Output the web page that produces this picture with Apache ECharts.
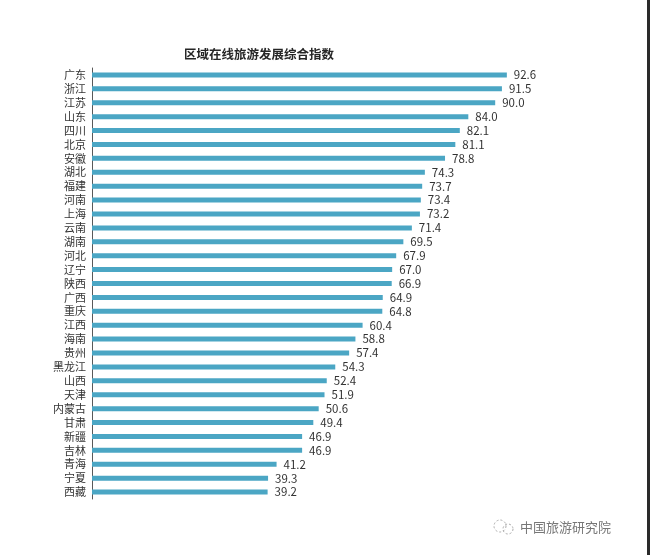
<!DOCTYPE html>
<html><head><meta charset="utf-8">
<script src="https://cdn.jsdelivr.net/npm/echarts@6/dist/echarts.min.js"></script>
<style>html,body{margin:0;padding:0;background:#fff}#c{width:650px;height:555px}</style>
</head><body><div id="c"></div>
<script>
var categories = ['广东','浙江','江苏','山东','四川','北京','安徽','湖北','福建','河南','上海','云南','湖南','河北','辽宁','陕西','广西','重庆','江西','海南','贵州','黑龙江','山西','天津','内蒙古','甘肃','新疆','吉林','青海','宁夏','西藏'];
var values = [92.6,91.5,90.0,84.0,82.1,81.1,78.8,74.3,73.7,73.4,73.2,71.4,69.5,67.9,67.0,66.9,64.9,64.8,60.4,58.8,57.4,54.3,52.4,51.9,50.6,49.4,46.9,46.9,41.2,39.3,39.2];
var titleText = '区域在线旅游发展综合指数';
var watermark = '中国旅游研究院';

var chart = echarts.init(document.getElementById('c'));
chart.setOption({
  backgroundColor: '#fff',
  animation: false,
  title: {
    text: titleText, left: 254, top: 43, textAlign: 'center',
    textStyle: {fontSize: 12.5, fontWeight: 'bold', color: '#262626', fontFamily: 'Noto Sans CJK SC'}
  },
  grid: {left: 92, top: 68, width: 448, height: 431, containLabel: false},
  xAxis: {type: 'value', min: 0, max: 100, show: false},
  yAxis: {
    type: 'category', data: categories, inverse: true,
    axisLine: {show: true, lineStyle: {color: '#595959', width: 1}},
    axisTick: {show: false},
    axisLabel: {interval: 0, fontSize: 11, color: '#333', margin: 6, fontFamily: 'Noto Sans CJK SC'}
  },
  series: [{
    type: 'bar', data: values, barWidth: 5,
    itemStyle: {color: '#4BA6C4'},
    label: {show: true, position: 'right', distance: 7, fontSize: 11.5, color: '#333',
      fontFamily: 'Noto Sans CJK SC', formatter: function(p){return p.value.toFixed(1);}}
  }],
  graphic: [
    {type: 'rect', shape: {x: 647, y: 0, width: 3, height: 555}, style: {fill: '#2a2a2a'}},
    {type: 'circle', shape: {cx: 500, cy: 526, r: 6}, style: {fill: 'none', stroke: '#aaa', lineWidth: 1, lineDash: [2,2]}},
    {type: 'circle', shape: {cx: 508, cy: 529, r: 5}, style: {fill: 'none', stroke: '#aaa', lineWidth: 1, lineDash: [2,2]}},
    {type: 'text', style: {x: 520, y: 527, text: watermark, fill: '#777', fontSize: 13, verticalAlign: 'middle', fontFamily: 'Noto Sans CJK SC'}}
  ]
});
</script></body></html>
